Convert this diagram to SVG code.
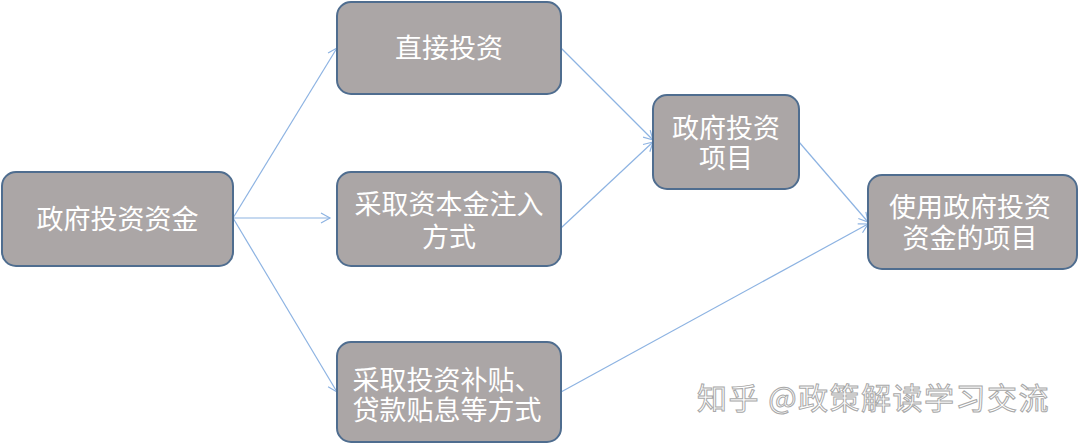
<svg xmlns="http://www.w3.org/2000/svg" width="1080" height="446" viewBox="0 0 1080 446">
<defs>
<marker id="arr" markerWidth="12" markerHeight="12" refX="10" refY="6" orient="auto" markerUnits="userSpaceOnUse">
<path d="M1,1 L10,6 L1,11" fill="none" stroke="#8db3e2" stroke-width="1.2"/>
</marker>
</defs>
<style>
.box{fill:#aba6a6;stroke:#4f6d8f;stroke-width:2}
.t{fill:#ffffff;font-family:"Noto Sans CJK SC","Noto Sans",sans-serif;font-size:27px;text-anchor:middle}
.c{fill:none;stroke:#8db3e2;stroke-width:1.2;marker-end:url(#arr)}
.wm{font-family:"Noto Sans CJK SC",sans-serif;font-size:30px;letter-spacing:1.5px;fill:#ffffff;stroke:#a8a8a8;stroke-width:1}
</style>
<rect width="1080" height="446" fill="#ffffff"/>
<g id="connectors">
<line class="c" x1="233" y1="218" x2="337" y2="48"/>
<line class="c" x1="233" y1="218" x2="330" y2="218"/>
<line class="c" x1="233" y1="218" x2="337" y2="392"/>
<line class="c" x1="561" y1="48" x2="653" y2="140"/>
<line class="c" x1="561" y1="228" x2="653" y2="142"/>
<line class="c" x1="799" y1="142" x2="868" y2="222"/>
<line class="c" x1="561" y1="392" x2="868" y2="224"/>
</g>
<g id="n1"><rect class="box" x="2" y="172" width="231" height="94" rx="14"/><text class="t" x="117.5" y="229">政府投资资金</text></g>
<g id="n2"><rect class="box" x="337" y="2" width="224" height="92" rx="14"/><text class="t" x="449" y="58">直接投资</text></g>
<g id="n3"><rect class="box" x="337" y="172" width="224" height="94" rx="14"/><text class="t" x="449" y="214">采取资本金注入</text><text class="t" x="449" y="247">方式</text></g>
<g id="n4"><rect class="box" x="337" y="342" width="224" height="100" rx="14"/><text class="t" x="447" y="390">采取投资补贴、</text><text class="t" x="447" y="420">贷款贴息等方式</text></g>
<g id="n5"><rect class="box" x="653" y="95" width="146" height="94" rx="14"/><text class="t" x="726" y="138">政府投资</text><text class="t" x="726" y="168">项目</text></g>
<g id="n6"><rect class="box" x="868" y="175" width="209" height="94" rx="14"/><text class="t" x="970" y="217">使用政府投资</text><text class="t" x="970" y="248">资金的项目</text></g>
<text class="wm" x="697" y="409">知乎 @政策解读学习交流</text>
</svg>
